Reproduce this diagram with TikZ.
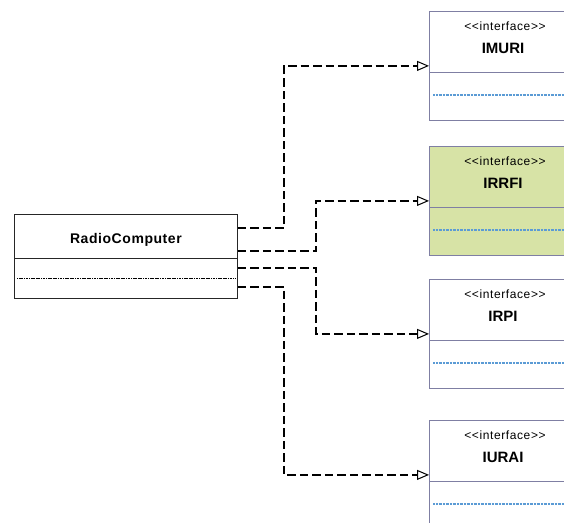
\documentclass[tikz,border=0pt]{standalone}
\usepackage{fontspec}
\setmainfont{Liberation Sans}
\newfontfamily\stfont[LetterSpace=5]{Liberation Sans}
\newfontfamily\nmfont[LetterSpace=0]{Liberation Sans}
\newfontfamily\rcfont[LetterSpace=4]{Liberation Sans}
\usetikzlibrary{arrows.meta,calc}
\definecolor{ifborder}{HTML}{7F7FA3}
\definecolor{ifgreen}{HTML}{D7E3A6}
\definecolor{ifblue}{HTML}{5B9BD5}
\tikzset{
  x=1pt,y=-1pt,
  ifbox/.style={draw=ifborder,line width=0.8pt,rectangle,minimum width=148pt,minimum height=109pt,anchor=north west,inner sep=0pt},
  rcbox/.style={draw=black!85,line width=0.8pt,rectangle,minimum width=223pt,minimum height=84pt,anchor=north west,inner sep=0pt},
  stereo/.style={font=\stfont\fontsize{12}{14}\selectfont,anchor=base,inner sep=0pt},
  ifname/.style={font=\nmfont\bfseries\fontsize{15}{18}\selectfont,anchor=base,inner sep=0pt},
  conn/.style={line width=1.7pt,dash pattern=on 8.5pt off 4pt,-{Triangle[open,length=12pt,width=10pt,line width=1pt,fill=white]}},
}
\begin{document}
\begin{tikzpicture}
\useasboundingbox (0,0) rectangle (564,522);
\clip (0,0) rectangle (564,522);
\fill[white] (0,0) rectangle (564,522);
% interface boxes
\node[ifbox] (imuri) at (429,11) {};
\node[ifbox,fill=ifgreen] (irrfi) at (429,146) {};
\node[ifbox] (irpi) at (429,279) {};
\node[ifbox] (iurai) at (429,420) {};
\foreach \n/\t in {imuri/IMURI,irrfi/IRRFI,irpi/IRPI,iurai/IURAI}{
  \node[stereo] (\n st) at ($(\n.north west)+(76,19.7)$) {<{}<interface>{}>};
  \node[ifname] (\n nm) at ($(\n.north west)+(74,42.3)$) {\t};
  \draw[ifborder,line width=0.8pt] ($(\n.north west)+(0,61)$) -- ($(\n.north east)+(0,61)$);
  \draw[ifblue,line width=1.1pt,dash pattern=on 1pt off 0.4pt] ($(\n.north west)+(4,84)$) -- ($(\n.north east)+(0,84)$);
}
% RadioComputer
\node[rcbox] (rc) at (14,214) {};
\node[font=\rcfont\bfseries\fontsize{14}{16}\selectfont,anchor=base,inner sep=0pt] (rcname) at ($(rc.north)+(0,29.7)$) {RadioComputer};
\draw[black!85,line width=0.8pt] ($(rc.north west)+(0,44)$) -- ($(rc.north east)+(0,44)$);
\draw[black,line width=1pt,dash pattern=on 1.2pt off 0.5pt] ($(rc.north west)+(3,64)$) -- ($(rc.north east)+(-3,64)$);
% connector start points
\coordinate (s1) at ($(rc.north east)+(0,14)$);
\coordinate (s2) at ($(rc.north east)+(0,37)$);
\coordinate (s3) at ($(rc.north east)+(0,54)$);
\coordinate (s4) at ($(rc.north east)+(0,73)$);
\draw[conn] (s1) -- (284,228) |- (imuri.west);
\draw[conn] (s2) -- (316,251) |- (irrfi.west);
\draw[conn] (s3) -- (316,268) |- (irpi.west);
\draw[conn] (s4) -- (284,287) |- (iurai.west);
\end{tikzpicture}
\end{document}
